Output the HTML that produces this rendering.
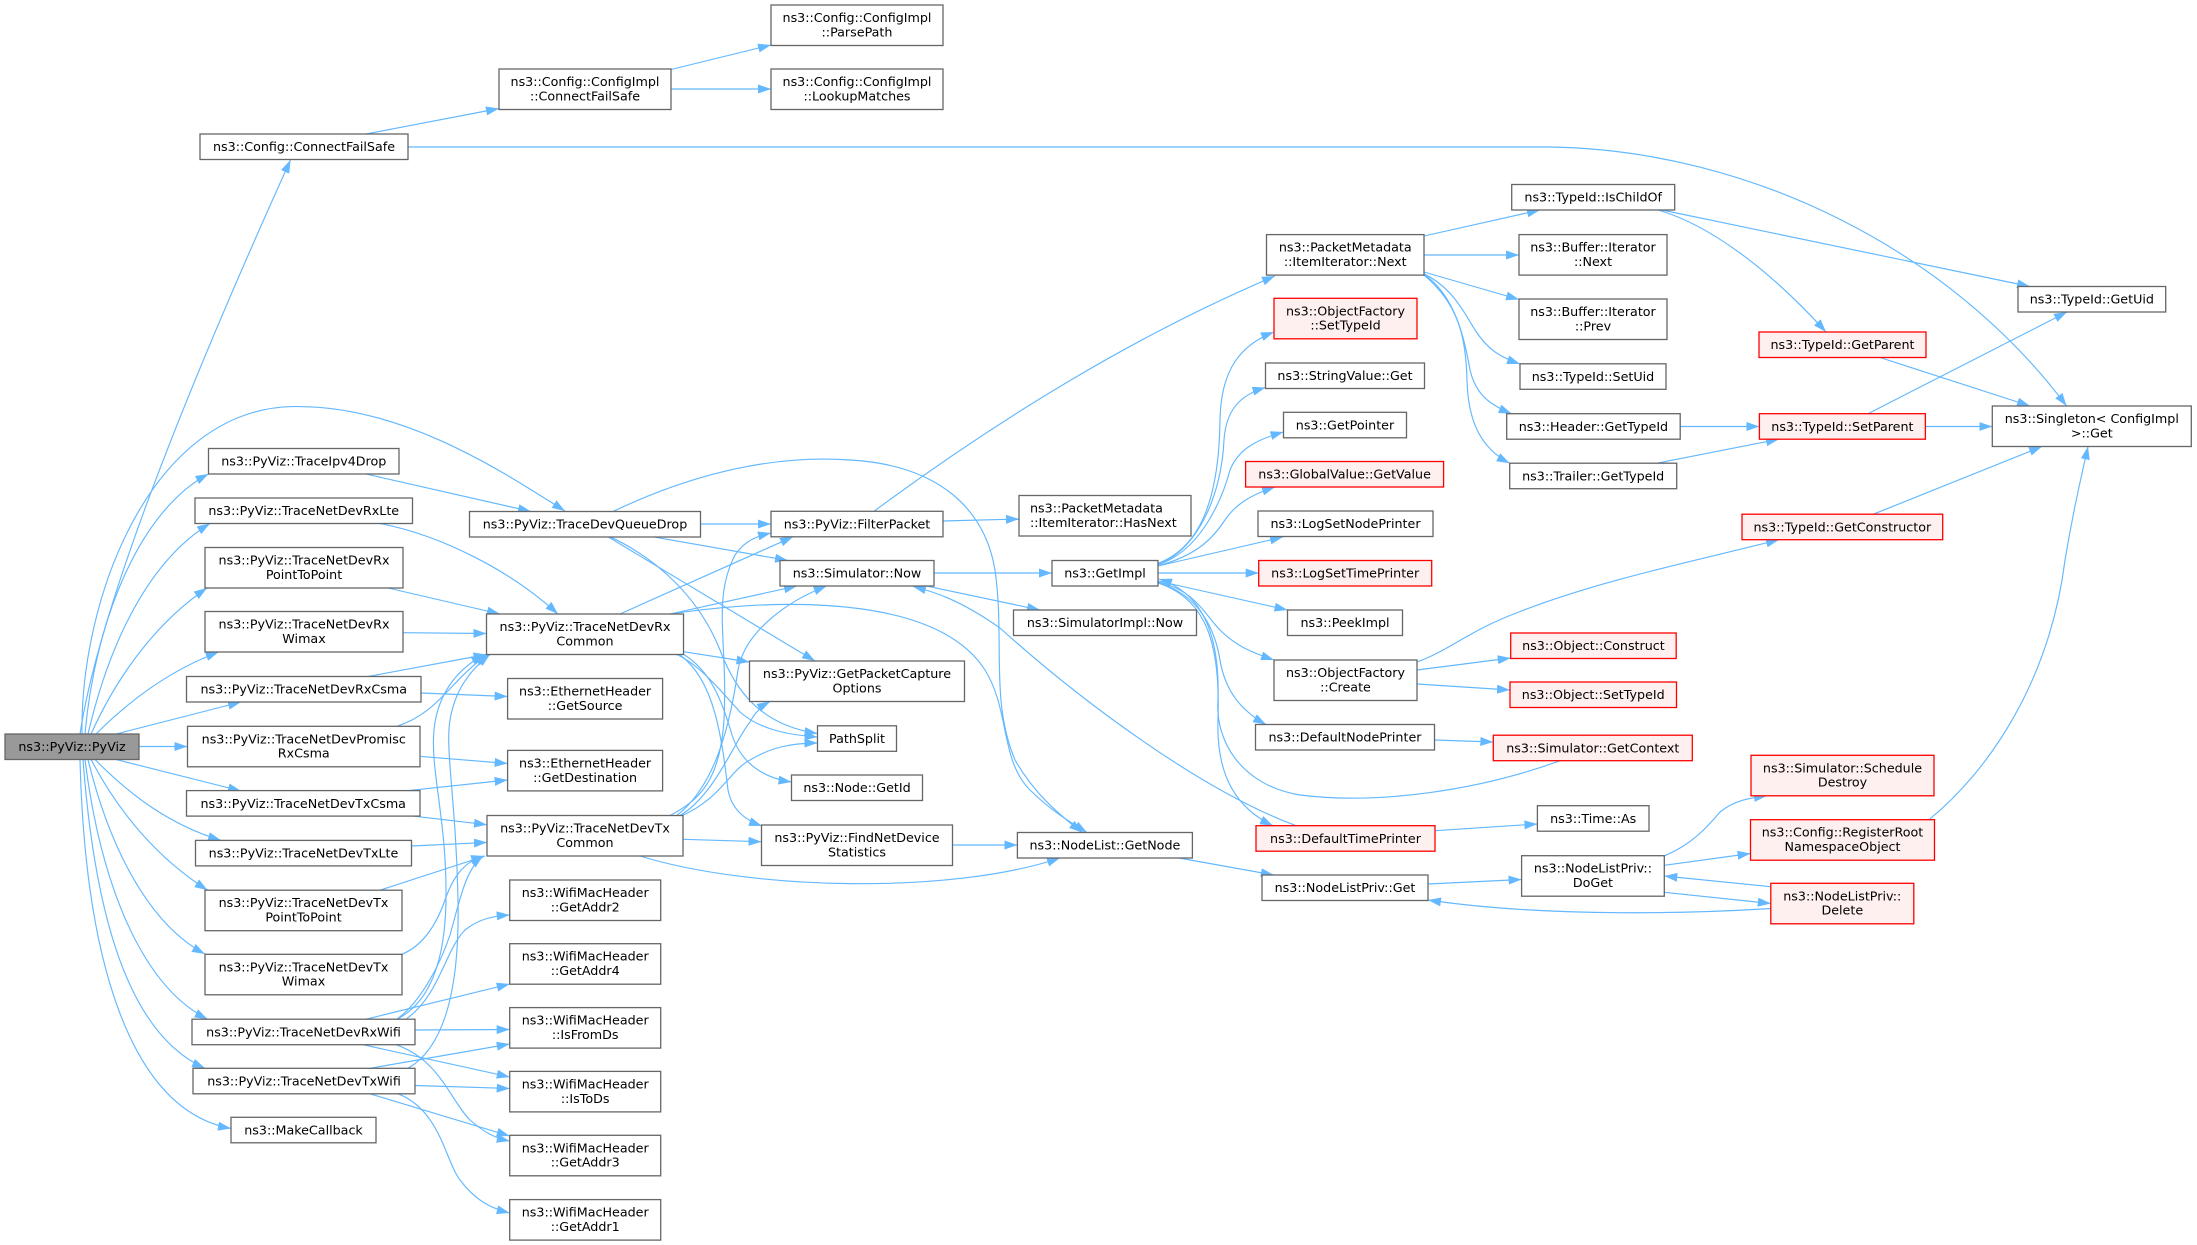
<!DOCTYPE html>
<html><head><meta charset="utf-8"><style>
html,body{margin:0;padding:0;background:#fff;}
svg{display:block;}
text{font-family:"DejaVu Sans","Liberation Sans",sans-serif;font-size:12.7px;fill:#000;}
.e{fill:none;stroke:#63b8ff;stroke-width:1.15;marker-end:url(#a);}
.n{fill:#fff;stroke:#666;stroke-width:1.3;}
.r{fill:#fff0f0;stroke:#f00;stroke-width:1.3;}
.g{fill:#999;stroke:#666;stroke-width:1.3;}
</style></head><body>
<svg width="2197" height="1245" viewBox="0 0 2197 1245" xmlns="http://www.w3.org/2000/svg">
<defs><marker id="a" markerWidth="13" markerHeight="9" refX="13" refY="4.5" orient="auto" markerUnits="userSpaceOnUse"><path d="M0,0 L13,4.5 L0,9 z" fill="#63b8ff"/></marker></defs>
<g>
<path class="e" d="M80,734 C100,600 200,360 290.5,160"/>
<path class="e" d="M82,734 C80,600 150,410 292,406.6 C400,404 500,470 565,511"/>
<path class="e" d="M85,734 C95,620 140,510 208.5,474"/>
<path class="e" d="M88,734 C110,640 150,560 210,523.5"/>
<path class="e" d="M91,734 C120,670 160,620 207,588"/>
<path class="e" d="M96,734 C130,700 170,670 218.7,652"/>
<path class="e" d="M116,734 L241,702"/>
<path class="e" d="M139,746.5 L187.5,746.5"/>
<path class="e" d="M116,759.5 L241,791"/>
<path class="e" d="M95,759.5 C130,795 170,825 221,840.4"/>
<path class="e" d="M91,759.5 C120,815 160,860 207.6,890.2"/>
<path class="e" d="M88,759.5 C110,850 150,925 205,954"/>
<path class="e" d="M85,759.5 C100,880 140,985 207.6,1019.2"/>
<path class="e" d="M83,759.5 C95,920 130,1035 205,1068.3"/>
<path class="e" d="M80,759.5 C85,960 130,1110 231,1128.5"/>
<path class="e" d="M366,134 L499,108.5"/>
<path class="e" d="M408,147 L1550,147 C1750,150 1950,250 2066.6,406"/>
<path class="e" d="M671,69.5 L771,45"/>
<path class="e" d="M671,89 L771,89"/>
<path class="e" d="M366,474 L531,511.5"/>
<path class="e" d="M380,523.5 C440,535 510,570 558,614"/>
<path class="e" d="M388,588 L500,614"/>
<path class="e" d="M403,632.7 L486.5,633.5"/>
<path class="e" d="M368,676.5 L486.5,654.5"/>
<path class="e" d="M421,693 L507.6,696.5"/>
<path class="e" d="M397,726.3 C440,712 450,680 488,654.5"/>
<path class="e" d="M421,756.4 L507.6,763.5"/>
<path class="e" d="M408.5,790.6 L507.6,780"/>
<path class="e" d="M413,816.1 L487,824.7"/>
<path class="e" d="M411.6,846 L487,842.4"/>
<path class="e" d="M380,890.2 L485,856"/>
<path class="e" d="M401.7,954.3 C425,945 438,920 445,900 C452,880 462,862 484,856"/>
<path class="e" d="M397,1019.2 C425,1005 445,970 446,900 C447,820 430,770 434,730 C438,690 460,668 484,654.5"/>
<path class="e" d="M408,1068.3 C440,1050 460,1000 458,900 C456,800 445,750 450,720 C455,690 470,670 490,654.5"/>
<path class="e" d="M396.7,1019.2 C420,1003 440,965 450,935 C460,900 465,870 483,856"/>
<path class="e" d="M406,1019.2 C440,995 445,950 465,930 C480,918 495,916 509.7,915"/>
<path class="e" d="M366,1019.2 L509.7,984"/>
<path class="e" d="M415,1030 L509.7,1029.5"/>
<path class="e" d="M363,1044.7 L509.7,1077"/>
<path class="e" d="M396,1044.7 C440,1060 450,1100 470,1120 C485,1133 495,1138 509.7,1141"/>
<path class="e" d="M370,1068.3 L509.7,1044"/>
<path class="e" d="M415,1085.5 L509.7,1088.5"/>
<path class="e" d="M370,1093.8 L509.7,1136"/>
<path class="e" d="M398,1093.8 C440,1110 445,1160 460,1180 C475,1200 490,1208 509.7,1213"/>
<path class="e" d="M620,614 L793,536.8"/>
<path class="e" d="M670,614 L797,586"/>
<path class="e" d="M670,614 C800,595 940,600 985,670 C1010,710 1000,760 1030,790 C1050,810 1070,822 1087,832.5"/>
<path class="e" d="M683.5,651.7 L749.5,662"/>
<path class="e" d="M676.7,654.5 C700,665 720,690 740,712 C760,730 790,735 817.5,737"/>
<path class="e" d="M683,654 C710,670 722,700 732,735 C742,765 765,778 791.5,782"/>
<path class="e" d="M680,655 C715,680 722,740 728,790 C732,810 745,820 762,826"/>
<path class="e" d="M670,815.5 C700,800 720,780 724,720 C728,640 712,600 735,555 C745,540 758,536 771,533"/>
<path class="e" d="M676.7,815.5 C710,790 728,740 738,670 C745,630 790,600 826.7,586"/>
<path class="e" d="M680,815.5 C715,795 735,740 750,722 C755,712 762,706 770,701.5"/>
<path class="e" d="M680,816.5 C720,800 730,770 750,760 C770,748 790,743 817.5,743"/>
<path class="e" d="M683,839.3 L761.5,841.7"/>
<path class="e" d="M640,856 C750,890 950,895 1060,858"/>
<path class="e" d="M700.5,524 L771,524"/>
<path class="e" d="M653,536.8 L788,560.5"/>
<path class="e" d="M608,536.8 L815,661"/>
<path class="e" d="M610,536.8 C660,560 700,600 720,650 C735,690 760,725 817.5,733.5"/>
<path class="e" d="M613,511.5 C700,470 780,455 850,460 C940,465 985,510 995,570 C1005,640 990,700 1015,760 C1035,795 1060,815 1082,832.5"/>
<path class="e" d="M943,521 L1019,519"/>
<path class="e" d="M874,511.3 C950,455 1100,350 1275,276"/>
<path class="e" d="M934,573 L1052,573"/>
<path class="e" d="M926.7,586 L1040,610"/>
<path class="e" d="M1296,825.7 C1200,790 1080,700 1000,628 C960,600 935,592 913,586.5"/>
<path class="e" d="M1157,563.8 C1200,548 1219,500 1220,420 C1221,370 1240,345 1274,332"/>
<path class="e" d="M1157,564.5 C1200,550 1222,490 1224,440 C1226,410 1240,395 1265.5,387.5"/>
<path class="e" d="M1157,565 C1200,552 1222,500 1230,470 C1238,450 1255,440 1283.5,432"/>
<path class="e" d="M1157,566 C1200,555 1215,535 1225,520 C1235,505 1250,495 1275,487"/>
<path class="e" d="M1158,566 L1283,537"/>
<path class="e" d="M1158,573 L1258.7,573"/>
<path class="e" d="M1158,581 L1287.5,610"/>
<path class="e" d="M1158,582 C1195,590 1205,615 1220,630 C1235,645 1250,652 1274,660"/>
<path class="e" d="M1158,582.5 C1200,595 1215,630 1220,660 C1225,690 1240,710 1266,724.5"/>
<path class="e" d="M1158,583 C1210,600 1220,650 1218,720 C1216,780 1240,810 1273,825.7"/>
<path class="e" d="M1560,760.7 C1480,790 1380,805 1300,795 C1240,785 1215,740 1218,700 C1220,630 1200,592 1159,579"/>
<path class="e" d="M1434.7,740 L1493.3,742"/>
<path class="e" d="M1435,830.7 L1537.4,824"/>
<path class="e" d="M1424,236 L1540,210"/>
<path class="e" d="M1424,255 L1519,255"/>
<path class="e" d="M1424,272 L1519,299.5"/>
<path class="e" d="M1424,273.8 C1450,287 1460,305 1475,330 C1488,350 1500,357 1520,364"/>
<path class="e" d="M1424,274.5 C1455,295 1465,340 1470,370 C1476,395 1490,405 1511.7,413.7"/>
<path class="e" d="M1424,275 C1460,305 1466,340 1467,380 C1468,420 1480,448 1509.7,463.2"/>
<path class="e" d="M1658,210 C1710,225 1770,270 1826,332"/>
<path class="e" d="M1662,210 L2030,286.5"/>
<path class="e" d="M1880,357.5 L2030,406"/>
<path class="e" d="M1868,413.7 L2067,312"/>
<path class="e" d="M1925.4,426.5 L1992.3,426.5"/>
<path class="e" d="M1680.2,426.5 L1759.4,426.5"/>
<path class="e" d="M1657,463.2 L1779,439.2"/>
<path class="e" d="M1873.4,514.2 L2042,446.5"/>
<path class="e" d="M1417,662 C1450,650 1470,630 1519,612 C1600,580 1700,560 1779,539.7"/>
<path class="e" d="M1417,670 L1510.7,658"/>
<path class="e" d="M1417,684 L1510,690"/>
<path class="e" d="M1929,819.7 C1990,770 2050,680 2065,560 C2075,500 2083,470 2088,446.5"/>
<path class="e" d="M1179,858 L1273.8,875"/>
<path class="e" d="M952.4,845 L1017.4,845"/>
<path class="e" d="M1428,884 L1521.6,879.5"/>
<path class="e" d="M1665,855.7 C1690,845 1705,830 1720,812 C1735,800 1750,798 1767,795.8"/>
<path class="e" d="M1664.3,865.3 L1750.5,853.5"/>
<path class="e" d="M1664.3,892.3 L1770.8,903.5"/>
<path class="e" d="M1770.8,886.7 L1664.3,876"/>
<path class="e" d="M1770.8,908.5 C1700,913 1550,918 1428,900"/>
</g>
<g text-anchor="middle">
<rect class="g" x="5" y="734" width="134" height="25.5"/><text x="72" y="751.2">ns3::PyViz::PyViz</text>
<rect class="n" x="200" y="134" width="208" height="25.5"/><text x="304" y="151.2">ns3::Config::ConnectFailSafe</text>
<rect class="n" x="499" y="69" width="172" height="40.5"/><text x="585" y="86">ns3::Config::ConfigImpl</text><text x="585" y="100.4">::ConnectFailSafe</text>
<rect class="n" x="771" y="5" width="172" height="40.5"/><text x="857" y="22">ns3::Config::ConfigImpl</text><text x="857" y="36.4">::ParsePath</text>
<rect class="n" x="771" y="69" width="172" height="40.5"/><text x="857" y="86">ns3::Config::ConfigImpl</text><text x="857" y="100.4">::LookupMatches</text>
<rect class="n" x="208.5" y="448.5" width="190.5" height="25.5"/><text x="303.75" y="465.7">ns3::PyViz::TraceIpv4Drop</text>
<rect class="n" x="195" y="498" width="217.5" height="25.5"/><text x="303.75" y="515.2">ns3::PyViz::TraceNetDevRxLte</text>
<rect class="n" x="205" y="547.5" width="198" height="40.5"/><text x="304" y="564.5">ns3::PyViz::TraceNetDevRx</text><text x="304" y="578.9">PointToPoint</text>
<rect class="n" x="205" y="611.5" width="198" height="40.5"/><text x="304" y="628.5">ns3::PyViz::TraceNetDevRx</text><text x="304" y="642.9">Wimax</text>
<rect class="n" x="186.5" y="676.5" width="234.5" height="25.5"/><text x="303.75" y="693.7">ns3::PyViz::TraceNetDevRxCsma</text>
<rect class="n" x="187.5" y="726.3" width="232.5" height="40.5"/><text x="303.75" y="743.3">ns3::PyViz::TraceNetDevPromisc</text><text x="303.75" y="757.7">RxCsma</text>
<rect class="n" x="186.5" y="790.6" width="233.5" height="25.5"/><text x="303.25" y="807.8">ns3::PyViz::TraceNetDevTxCsma</text>
<rect class="n" x="195.5" y="840.4" width="216" height="25.5"/><text x="303.5" y="857.6">ns3::PyViz::TraceNetDevTxLte</text>
<rect class="n" x="205" y="890.2" width="197" height="40.5"/><text x="303.5" y="907.2">ns3::PyViz::TraceNetDevTx</text><text x="303.5" y="921.6">PointToPoint</text>
<rect class="n" x="205" y="954.3" width="197" height="40.5"/><text x="303.5" y="971.3">ns3::PyViz::TraceNetDevTx</text><text x="303.5" y="985.7">Wimax</text>
<rect class="n" x="192" y="1019.2" width="223" height="25.5"/><text x="303.5" y="1036.4">ns3::PyViz::TraceNetDevRxWifi</text>
<rect class="n" x="193" y="1068.3" width="222" height="25.5"/><text x="304" y="1085.5">ns3::PyViz::TraceNetDevTxWifi</text>
<rect class="n" x="231" y="1117.3" width="145" height="25.5"/><text x="303.5" y="1134.5">ns3::MakeCallback</text>
<rect class="n" x="469.5" y="511.5" width="231" height="25.5"/><text x="585" y="528.7">ns3::PyViz::TraceDevQueueDrop</text>
<rect class="n" x="486.5" y="614" width="197" height="40.5"/><text x="585" y="631">ns3::PyViz::TraceNetDevRx</text><text x="585" y="645.4">Common</text>
<rect class="n" x="507.6" y="678.5" width="155" height="40.5"/><text x="585.1" y="695.5">ns3::EthernetHeader</text><text x="585.1" y="709.9">::GetSource</text>
<rect class="n" x="507.6" y="750.4" width="155" height="40.5"/><text x="585.1" y="767.4">ns3::EthernetHeader</text><text x="585.1" y="781.8">::GetDestination</text>
<rect class="n" x="487" y="815.5" width="196" height="40.5"/><text x="585" y="832.5">ns3::PyViz::TraceNetDevTx</text><text x="585" y="846.9">Common</text>
<rect class="n" x="509.7" y="880" width="151" height="40.5"/><text x="585.2" y="897">ns3::WifiMacHeader</text><text x="585.2" y="911.4">::GetAddr2</text>
<rect class="n" x="509.7" y="943.7" width="151" height="40.5"/><text x="585.2" y="960.7">ns3::WifiMacHeader</text><text x="585.2" y="975.1">::GetAddr4</text>
<rect class="n" x="509.7" y="1007.6" width="151" height="40.5"/><text x="585.2" y="1024.6">ns3::WifiMacHeader</text><text x="585.2" y="1039">::IsFromDs</text>
<rect class="n" x="509.7" y="1071.4" width="151" height="40.5"/><text x="585.2" y="1088.4">ns3::WifiMacHeader</text><text x="585.2" y="1102.8">::IsToDs</text>
<rect class="n" x="509.7" y="1135.3" width="151" height="40.5"/><text x="585.2" y="1152.3">ns3::WifiMacHeader</text><text x="585.2" y="1166.7">::GetAddr3</text>
<rect class="n" x="509.7" y="1199.6" width="151" height="40.5"/><text x="585.2" y="1216.6">ns3::WifiMacHeader</text><text x="585.2" y="1231">::GetAddr1</text>
<rect class="n" x="771" y="511.3" width="172" height="25.5"/><text x="857" y="528.5">ns3::PyViz::FilterPacket</text>
<rect class="n" x="780" y="560.5" width="154" height="25.5"/><text x="857" y="577.7">ns3::Simulator::Now</text>
<rect class="n" x="749.5" y="661" width="215" height="40.5"/><text x="857" y="678">ns3::PyViz::GetPacketCapture</text><text x="857" y="692.4">Options</text>
<rect class="n" x="817.5" y="725.8" width="79" height="25.5"/><text x="857" y="743">PathSplit</text>
<rect class="n" x="791.5" y="775" width="131" height="25.5"/><text x="857" y="792.2">ns3::Node::GetId</text>
<rect class="n" x="761.5" y="825" width="191" height="40.5"/><text x="857" y="842">ns3::PyViz::FindNetDevice</text><text x="857" y="856.4">Statistics</text>
<rect class="n" x="1017.4" y="832.5" width="175" height="25.5"/><text x="1104.9" y="849.7">ns3::NodeList::GetNode</text>
<rect class="n" x="1019" y="495.5" width="172" height="40.5"/><text x="1030" y="512.5" text-anchor="start">ns3::PacketMetadata</text><text x="1030" y="526.9" text-anchor="start">::ItemIterator::HasNext</text>
<rect class="n" x="1052" y="560.5" width="106" height="25.5"/><text x="1105" y="577.7">ns3::GetImpl</text>
<rect class="n" x="1013.5" y="610" width="183" height="25.5"/><text x="1105" y="627.2">ns3::SimulatorImpl::Now</text>
<rect class="n" x="1266.5" y="234.6" width="157.5" height="40.5"/><text x="1345.25" y="251.6">ns3::PacketMetadata</text><text x="1345.25" y="266">::ItemIterator::Next</text>
<rect class="r" x="1274" y="298.3" width="143" height="40.5"/><text x="1345.5" y="315.3">ns3::ObjectFactory</text><text x="1345.5" y="329.7">::SetTypeId</text>
<rect class="n" x="1265.5" y="363" width="159" height="25.5"/><text x="1345" y="380.2">ns3::StringValue::Get</text>
<rect class="n" x="1283.5" y="412.3" width="123" height="25.5"/><text x="1345" y="429.5">ns3::GetPointer</text>
<rect class="r" x="1245.6" y="461.5" width="198" height="25.5"/><text x="1344.6" y="478.7">ns3::GlobalValue::GetValue</text>
<rect class="n" x="1258" y="511" width="175" height="25.5"/><text x="1345.5" y="528.2">ns3::LogSetNodePrinter</text>
<rect class="r" x="1258.7" y="560.5" width="173" height="25.5"/><text x="1345.2" y="577.7">ns3::LogSetTimePrinter</text>
<rect class="n" x="1287.5" y="610" width="115" height="25.5"/><text x="1345" y="627.2">ns3::PeekImpl</text>
<rect class="n" x="1274" y="660" width="143" height="40.5"/><text x="1345.5" y="677">ns3::ObjectFactory</text><text x="1345.5" y="691.4">::Create</text>
<rect class="n" x="1255.5" y="724.5" width="179" height="25.5"/><text x="1345" y="741.7">ns3::DefaultNodePrinter</text>
<rect class="r" x="1256" y="825.7" width="179" height="25.5"/><text x="1345.5" y="842.9">ns3::DefaultTimePrinter</text>
<rect class="n" x="1262" y="875" width="166" height="25.5"/><text x="1345" y="892.2">ns3::NodeListPriv::Get</text>
<rect class="n" x="1511.7" y="184.5" width="163" height="25.5"/><text x="1593.2" y="201.7">ns3::TypeId::IsChildOf</text>
<rect class="n" x="1519" y="234.6" width="148" height="40.5"/><text x="1593" y="251.6">ns3::Buffer::Iterator</text><text x="1593" y="266">::Next</text>
<rect class="n" x="1519" y="299" width="148" height="40.5"/><text x="1593" y="316">ns3::Buffer::Iterator</text><text x="1593" y="330.4">::Prev</text>
<rect class="n" x="1520" y="363.8" width="146" height="25.5"/><text x="1593" y="381">ns3::TypeId::SetUid</text>
<rect class="n" x="1506.7" y="413.7" width="173.5" height="25.5"/><text x="1593.45" y="430.9">ns3::Header::GetTypeId</text>
<rect class="n" x="1509.7" y="463.2" width="167" height="25.5"/><text x="1593.2" y="480.4">ns3::Trailer::GetTypeId</text>
<rect class="r" x="1510.7" y="633" width="165.5" height="25.5"/><text x="1593.45" y="650.2">ns3::Object::Construct</text>
<rect class="r" x="1510" y="682" width="166.5" height="25.5"/><text x="1593.25" y="699.2">ns3::Object::SetTypeId</text>
<rect class="r" x="1493.3" y="735.2" width="199" height="25.5"/><text x="1592.8" y="752.4">ns3::Simulator::GetContext</text>
<rect class="n" x="1537.4" y="805.7" width="111.6" height="25.5"/><text x="1593.2" y="822.9">ns3::Time::As</text>
<rect class="n" x="1521.6" y="855.7" width="142.7" height="40.5"/><text x="1592.95" y="872.7">ns3::NodeListPriv::</text><text x="1592.95" y="887.1">DoGet</text>
<rect class="r" x="1759" y="332" width="167" height="25.5"/><text x="1842.5" y="349.2">ns3::TypeId::GetParent</text>
<rect class="r" x="1759.4" y="413.7" width="166" height="25.5"/><text x="1842.4" y="430.9">ns3::TypeId::SetParent</text>
<rect class="r" x="1742" y="514.2" width="200.7" height="25.5"/><text x="1842.35" y="531.4">ns3::TypeId::GetConstructor</text>
<rect class="r" x="1751" y="755.3" width="183" height="40.5"/><text x="1842.5" y="772.3">ns3::Simulator::Schedule</text><text x="1842.5" y="786.7">Destroy</text>
<rect class="r" x="1750.5" y="819.7" width="184" height="40.5"/><text x="1842.5" y="836.7">ns3::Config::RegisterRoot</text><text x="1842.5" y="851.1">NamespaceObject</text>
<rect class="r" x="1770.8" y="883.3" width="143" height="40.5"/><text x="1842.3" y="900.3">ns3::NodeListPriv::</text><text x="1842.3" y="914.7">Delete</text>
<rect class="n" x="2018" y="286.5" width="147.7" height="25.5"/><text x="2091.85" y="303.7">ns3::TypeId::GetUid</text>
<rect class="n" x="1992.3" y="406" width="199" height="40.5"/><text x="2091.8" y="423">ns3::Singleton&lt; ConfigImpl</text><text x="2091.8" y="437.4">&gt;::Get</text>
</g>
</svg>
</body></html>
